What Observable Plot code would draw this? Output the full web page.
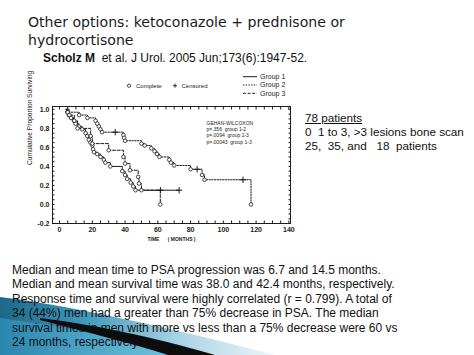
<!DOCTYPE html>
<html><head><meta charset="utf-8">
<script src="https://cdn.jsdelivr.net/npm/d3@7"></script>
<script src="https://cdn.jsdelivr.net/npm/@observablehq/plot@0.6"></script>
<style>
html,body{margin:0;padding:0;}
body{background:#fff;width:474px;height:355px;overflow:hidden;position:relative;font-family:"Liberation Sans",Arial,sans-serif;color:#111;}
#bg{position:absolute;left:0;top:0;}
#title{position:absolute;left:28px;top:14px;font-family:"DejaVu Sans",sans-serif;font-size:14.1px;line-height:17.7px;color:#1a1a1a;white-space:nowrap;}
#cite{position:absolute;left:43px;top:51px;font-size:12px;line-height:14px;white-space:nowrap;}
#chart{position:absolute;left:0;top:70px;}
#legend{position:absolute;left:0;top:70px;}
#note{position:absolute;left:305px;top:111px;font-size:11.7px;line-height:14px;white-space:nowrap;}
#body{position:absolute;left:12px;top:263px;font-size:12px;line-height:14.4px;white-space:nowrap;}
</style></head>
<body>
<svg id="bg" width="474" height="355">
  <defs>
    <linearGradient id="gA" x1="0" x2="1" y1="0" y2="0">
      <stop offset="0" stop-color="#1b6888"/>
      <stop offset="0.3" stop-color="#3f97ba"/>
      <stop offset="0.65" stop-color="#a9d3e4"/>
      <stop offset="1" stop-color="#eef6fa"/>
    </linearGradient>
    <linearGradient id="gB" x1="0" x2="1" y1="0" y2="0">
      <stop offset="0" stop-color="#2b86ad"/>
      <stop offset="1" stop-color="#6fc2de"/>
    </linearGradient>
  </defs>
  <path d="M0,297 C60,304 160,325 275,355 L0,355 Z" fill="url(#gA)"/>
  <path d="M0,318 C60,326 120,338 170,355 L0,355 Z" fill="url(#gB)"/>
  <path d="M40,318 C90,324 150,336 215,355 L168,355 C130,343 90,333 40,320 Z" fill="#0d0d0d"/>
</svg>
<div id="title">Other options: ketoconazole + prednisone or<br>hydrocortisone</div>
<div id="cite"><b>Scholz M</b>&nbsp; et al. J Urol. 2005 Jun;173(6):1947-52.</div>
<div id="chart"></div>
<svg id="legend" width="300" height="30"></svg>
<div id="note"><u>78 patients</u><br>0&nbsp; 1 to 3, &gt;3 lesions bone scan<br>25,&nbsp; 35, and&nbsp;&nbsp; 18&nbsp; patients</div>
<div id="body">Median and mean time to PSA progression was 6.7 and 14.5 months.<br>Median and mean survival time was 38.0 and 42.4 months, respectively.<br>Response time and survival were highly correlated (r = 0.799). A total of<br>34 (44%) men had a greater than 75% decrease in PSA. The median<br>survival times in men with more vs less than a 75% decrease were 60 vs<br>24 months, respectively.</div>
<script>
// ---- data ----
const groupNames = ["Group 1", "Group 2", "Group 3"];
const markerNames = ["Complete", "Censored"];
const xTicks = [0, 20, 40, 60, 80, 100, 120, 140];
const yTicks = [-0.2, 0, 0.2, 0.4, 0.6, 0.8, 1.0];
const testLines = ["GEHAN-WILCOXON", "p=.356  group 1-2", "p=.0094  group 2-3", "p=.00043  group 1-3"];

// Group 1 (solid)
const g1Time = [4, 4.7, 5.7, 7, 8.8, 9.8, 11.8, 13.8, 15.9, 16.9, 17.9, 18.9, 20, 20.5, 21, 23, 25, 27, 28, 31, 38.3, 40, 41.3, 43.4, 45, 46.4, 61.6, 73];
const g1Surv = [1.0, 0.97, 0.94, 0.91, 0.88, 0.85, 0.82, 0.79, 0.75, 0.72, 0.68, 0.65, 0.62, 0.58, 0.55, 0.53, 0.50, 0.47, 0.44, 0.40, 0.35, 0.31, 0.27, 0.23, 0.19, 0.15, 0.15, 0.15];
const g1Kind = ["s","o","o","o","o","o","o","o","o","o","o","o","o","o","o","o","o","o","o","o","o","o","o","o","o","o","+","+"];
// Group 2 (dotted)
const g2Time = [4, 5, 12, 17, 22, 23, 24, 25, 26, 34, 39, 39.5, 40, 50, 52, 56, 58, 59.5, 61, 67, 68, 70, 80, 84, 87, 88.5, 112, 116.9];
const g2Surv = [1.0, 0.97, 0.94, 0.91, 0.88, 0.85, 0.82, 0.79, 0.76, 0.76, 0.73, 0.70, 0.67, 0.64, 0.62, 0.59, 0.56, 0.53, 0.50, 0.47, 0.44, 0.41, 0.37, 0.37, 0.31, 0.26, 0.26, 0];
const g2Kind = ["s","o","o","o","o","o","o","o","o","+","o","o","o","o","o","o","o","o","o","o","o","o","o","+","o","o","+","o"];
// Group 3 (dashed)
const g3Time = [4, 6, 9, 11, 19, 20, 30, 39, 40, 43, 48, 48.5, 50, 61.5];
const g3Surv = [1.0, 0.94, 0.88, 0.80, 0.72, 0.64, 0.57, 0.50, 0.43, 0.36, 0.29, 0.22, 0.15, 0];
const g3Kind = ["s","o","o","o","o","o","o","o","o","o","o","o","o","o"];

const dashes = {"Group 1": null, "Group 2": "1.4,1.3", "Group 3": "3,1.6"};

const rows = [];
function add(name, T, S, K) { T.forEach((t, i) => rows.push({group: name, time: t, surv: S[i], kind: K[i]})); }
add(groupNames[0], g1Time, g1Surv, g1Kind);
add(groupNames[1], g2Time, g2Surv, g2Kind);
add(groupNames[2], g3Time, g3Surv, g3Kind);

const ink = "#1c1c1c";
const minorX = d3.range(0, 141, 5);
const minorY = d3.range(-0.2, 1.031, 0.05);
const chart = Plot.plot({
  width: 300, height: 182,
  marginLeft: 52, marginRight: 10, marginTop: 36, marginBottom: 29,
  style: {background: "transparent", fontFamily: "'Liberation Sans', Arial, sans-serif", color: ink, overflow: "visible"},
  x: {domain: [-4.3, 141]},
  y: {domain: [-0.2, 1.03]},
  marks: [
    Plot.axisX({ticks: xTicks, tickSize: 0, tickPadding: 4, fontSize: 7, fontWeight: "bold", label: null, tickFormat: d => String(d)}),
    Plot.axisY({ticks: yTicks, tickSize: 0, tickPadding: 3, fontSize: 7, fontWeight: "bold", label: null, tickFormat: d => d.toFixed(1)}),
    Plot.axisX({anchor: "top", ticks: minorX, tickSize: -2.5, tickFormat: () => "", label: null}),
    Plot.axisX({anchor: "bottom", ticks: minorX, tickSize: -2.5, tickFormat: () => "", label: null}),
    Plot.axisY({anchor: "left", ticks: minorY, tickSize: -2.5, tickFormat: () => "", label: null}),
    Plot.axisY({anchor: "right", ticks: minorY, tickSize: -2.5, tickFormat: () => "", label: null}),
    Plot.frame({stroke: ink, strokeWidth: 1}),
    ...groupNames.map(g => Plot.line(rows.filter(d => d.group === g), {
      x: "time", y: "surv", curve: "step-after", stroke: ink, strokeWidth: 1,
      strokeDasharray: dashes[g]
    })),
    Plot.dot(rows.filter(d => d.kind === "o"), {x: "time", y: "surv", r: 1.8, stroke: ink, fill: "white", strokeWidth: 0.8}),
    Plot.dot(rows.filter(d => d.kind === "+"), {x: "time", y: "surv", symbol: "plus", r: 2.2, stroke: ink, strokeWidth: 1}),
    Plot.text([testLines.join("\n")], {text: d => d, frameAnchor: "top-left", dx: 154, dy: 14, textAnchor: "start", lineAnchor: "top", fontSize: 5, lineHeight: 1.25, fill: ink}),
    Plot.text(["Cumulative Proportion Surviving"], {text: d => d, frameAnchor: "left", dx: -23, rotate: -90, fontSize: 6.6, fill: ink}),
    Plot.text(["TIME\u00a0\u00a0\u00a0\u00a0\u00a0\u00a0( MONTHS )"], {text: d => d, frameAnchor: "bottom", dy: 17.7, fontSize: 5, fontWeight: "bold", fill: ink})
  ]
});
document.getElementById("chart").appendChild(chart);

// legend (above the plot)
const lg = d3.select("#legend").style("font-family", "'Liberation Sans', Arial, sans-serif");
const ly = 15.7; // row of Complete / Censored
lg.append("circle").attr("cx", 129).attr("cy", ly).attr("r", 1.6).attr("fill", "white").attr("stroke", ink).attr("stroke-width", 0.8);
lg.append("text").attr("x", 136).attr("y", ly).attr("dy", "0.35em").attr("font-size", 6).attr("fill", ink).text(markerNames[0]);
lg.append("path").attr("d", "M-2,0H2M0,-2V2").attr("transform", `translate(175,${ly})`).attr("stroke", ink).attr("stroke-width", 0.9);
lg.append("text").attr("x", 181.5).attr("y", ly).attr("dy", "0.35em").attr("font-size", 6).attr("fill", ink).text(markerNames[1]);
groupNames.forEach((g, i) => {
  const yy = 6.7 + i * 8.3;
  lg.append("line").attr("x1", 243).attr("x2", 257).attr("y1", yy).attr("y2", yy).attr("stroke", ink).attr("stroke-width", 1).attr("stroke-dasharray", dashes[g]);
  lg.append("text").attr("x", 260).attr("y", yy).attr("dy", "0.35em").attr("font-size", 7).attr("fill", ink).text(g);
});
</script>
</body></html>
